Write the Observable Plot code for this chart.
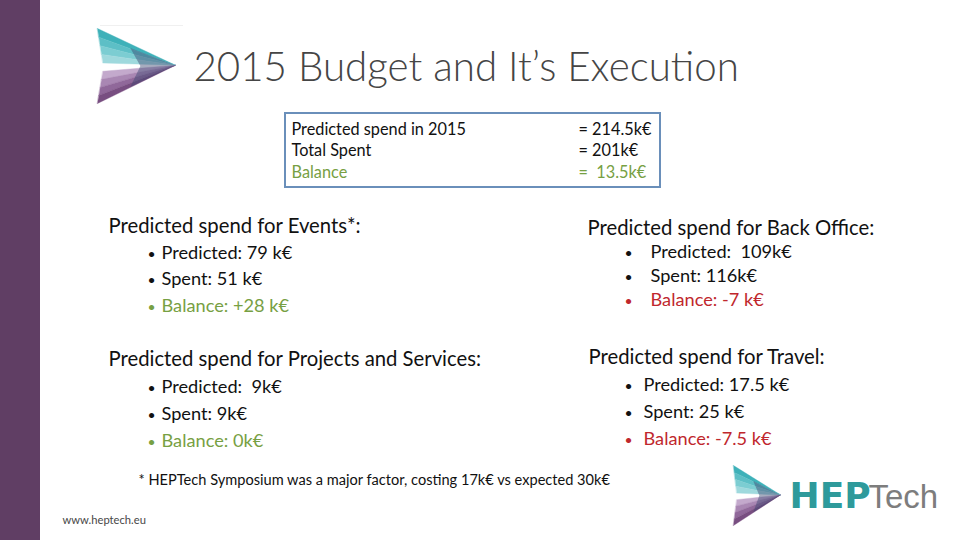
<!DOCTYPE html>
<html><head><meta charset="utf-8">
<script src="https://cdn.jsdelivr.net/npm/d3@7"></script>
<script src="https://cdn.jsdelivr.net/npm/@observablehq/plot@0.6"></script>
<style>
html,body{margin:0;padding:0;background:#fff;}
#chart svg{display:block;}
#chart svg text{white-space:pre;}
</style>
</head><body><div id="chart"></div>
<script>
// ---------- content ----------
const title = "2015 Budget and It’s Execution";
const summaryLabels = ["Predicted spend in 2015", "Total Spent", "Balance"];
const summaryValues = ["= 214.5k€", "= 201k€", "=  13.5k€"];
const summarySign = ["neutral", "neutral", "positive"];
const sectionTitles = [
  "Predicted spend for Events*:",
  "Predicted spend for Back Office:",
  "Predicted spend for Projects and Services:",
  "Predicted spend for Travel:"
];
const predictedText = ["Predicted: 79 k€", "Predicted:  109k€", "Predicted:  9k€", "Predicted: 17.5 k€"];
const spentText = ["Spent: 51 k€", "Spent: 116k€", "Spent: 9k€", "Spent: 25 k€"];
const balanceText = ["Balance: +28 k€", "Balance: -7 k€", "Balance: 0k€", "Balance: -7.5 k€"];
const balanceSign = ["positive", "negative", "positive", "negative"];
const footnote = "* HEPTech Symposium was a major factor, costing 17k€ vs expected 30k€";
const website = "www.heptech.eu";
const brandParts = ["HEP", "Tech"];

// ---------- style / layout ----------
const FONT = "Lato, 'Open Sans', sans-serif";
const colors = {neutral: "#111111", positive: "#77a043", negative: "#c0272d"};
const sectionLayout = [
  {hx: 108, hy: 232, bx: 147, tx: 161, y0: 258, step: 26.5},
  {hx: 587, hy: 234, bx: 624, tx: 650, y0: 257, step: 24},
  {hx: 108, hy: 365, bx: 147, tx: 161, y0: 392, step: 27},
  {hx: 588, hy: 363, bx: 624, tx: 643, y0: 390, step: 27}
];
const box = {x1: 285, x2: 660, y1: 113, y2: 187, lx: 291, vx: 578, y0: 134, step: 21.5};

const headRows = sectionTitles.map((t, i) => ({text: t, x: sectionLayout[i].hx, y: sectionLayout[i].hy}));
const bulletRows = [];
sectionTitles.forEach((t, i) => {
  const L = sectionLayout[i];
  [predictedText[i], spentText[i], balanceText[i]].forEach((txt, j) => {
    const sign = j === 2 ? balanceSign[i] : "neutral";
    bulletRows.push({text: txt, x: L.tx, bx: L.bx, y: L.y0 + j * L.step, color: colors[sign]});
  });
});
const summaryRows = summaryLabels.map((l, i) => ({
  label: l, value: summaryValues[i], y: box.y0 + i * box.step, color: colors[summarySign[i]]
}));

// logo geometry (normalized)
const logoPts = [];
function addLogo(id, x0, y0, w, h) {
  const tip = [1, 0.49];
  const topA = [0, 0], topB = [0.07, 0.46];
  const botA = [0.07, 0.57], botB = [0, 1];
  const topCols = ["#3eb1b9", "#5dbfc6", "#7ccdd2", "#9fd9dd"];
  const botCols = ["#c3a9cc", "#a987b3", "#90689a", "#784e81"];
  const lerp = (a, b, t) => [a[0] + (b[0] - a[0]) * t, a[1] + (b[1] - a[1]) * t];
  const push = (poly, key, color, layer) => poly.forEach(p =>
    logoPts.push({x: x0 + p[0] * w, y: y0 + p[1] * h, id: id + key, color, layer}));
  for (let i = 0; i < 4; i++) {
    push([lerp(topA, topB, i / 4), tip, lerp(topA, topB, (i + 1) / 4)], "t" + i, topCols[i], 0);
    push([lerp(botA, botB, i / 4), tip, lerp(botA, botB, (i + 1) / 4)], "b" + i, botCols[i], 0);
  }
  push([[0.42, 0.26], tip, [0.42, 0.78], [0.55, 0.5]], "o", "#3b4672", 1);
}
addLogo("L1", 97, 28, 78, 75);
addLogo("L2", 733, 465, 47, 60);

const T = (opts) => ({textAnchor: "start", lineAnchor: "bottom", fontFamily: FONT, ...opts});

const chart = Plot.plot({
  width: 960, height: 540, margin: 0,
  x: {domain: [0, 960], range: [0, 960], axis: null},
  y: {domain: [0, 540], range: [0, 540], axis: null},
  style: {background: "#ffffff", fontFamily: FONT},
  marks: [
    // left purple band
    Plot.rect([0], {x1: 0, x2: 40, y1: 0, y2: 540, fill: "#603e64"}),
    // faint rule above logo
    Plot.ruleY([25], {x1: 100, x2: 183, stroke: "#f0f0f0", strokeWidth: 1}),
    // logos
    Plot.line(logoPts.filter(d => d.layer === 0), {x: "x", y: "y", z: "id", fill: "color", stroke: "color", strokeWidth: 0.4, curve: "linear-closed"}),
    Plot.line(logoPts.filter(d => d.layer === 1), {x: "x", y: "y", z: "id", fill: "color", fillOpacity: 0.45, curve: "linear-closed"}),
    // title
    Plot.text([title], T({x: 193, y: 80, text: d => d, fontSize: 40.3, fontWeight: 300, fill: "#454545"})),
    // summary box
    Plot.rect([box], {x1: "x1", x2: "x2", y1: "y1", y2: "y2", fill: "none", stroke: "#6a8fba", strokeWidth: 2}),
    Plot.text(summaryRows, T({x: box.lx, y: "y", text: "label", fill: "color", fontSize: 16.3})),
    Plot.text(summaryRows, T({x: box.vx, y: "y", text: "value", fill: "color", fontSize: 16.3})),
    // sections
    Plot.text(headRows, T({x: "x", y: "y", text: "text", fontSize: 20.3, fill: "#111"})),
    Plot.text(bulletRows, T({x: "bx", y: "y", text: () => "•", fill: "color", fontSize: 14})),
    Plot.text(bulletRows, T({x: "x", y: "y", text: "text", fill: "color", fontSize: 18.2})),
    // footnote & website
    Plot.text([footnote], T({x: 138, y: 484, text: d => d, fontSize: 14.6, fill: "#111"})),
    Plot.text([website], T({x: 62, y: 523, text: d => d, fontSize: 11.2, fill: "#484848"})),
    // brand
    Plot.text([brandParts[0]], T({x: 789, y: 507, text: d => d, fontSize: 36, fontWeight: 900, fill: "#2e9a9b", fontFamily: "'DejaVu Sans', sans-serif", letterSpacing: "-2px"})),
    Plot.text([brandParts[1]], T({x: 868, y: 507, text: d => d, fontSize: 33, fill: "#7d7d7d", fontFamily: "'Liberation Sans', sans-serif"}))
  ]
});
document.getElementById("chart").appendChild(chart);
</script>
</body></html>
